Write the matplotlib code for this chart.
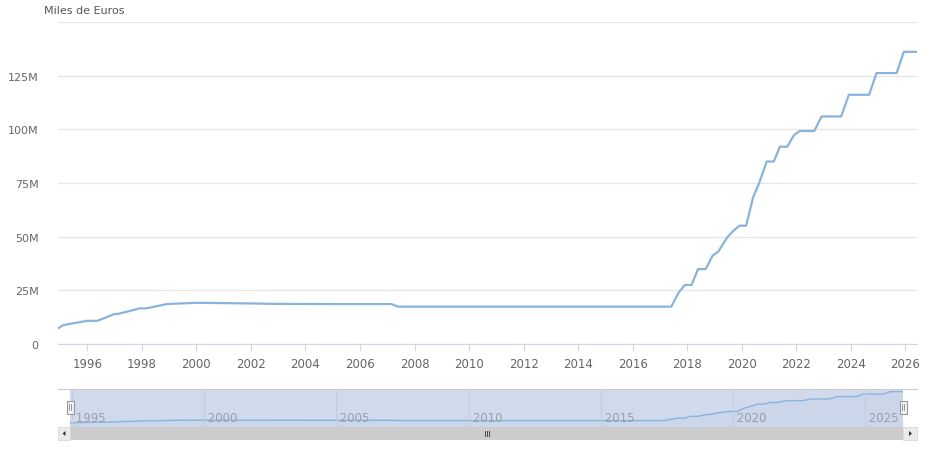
import matplotlib
matplotlib.use("Agg")
import matplotlib.pyplot as plt
import matplotlib.dates as mdates
from matplotlib.patches import Rectangle, Polygon
import pandas as pd
import numpy as np

# ---- data (millions of thousand euros) ----
dates = ["1994-12-05", "1995-02-15", "1995-07-20", "1996-01-01", "1996-05-15",
         "1996-09-10", "1997-01-01", "1997-02-10", "1997-08-05", "1997-12-01",
         "1998-03-01", "1998-12-01", "2000-01-01", "2002-01-01", "2002-10-15",
         "2005-01-01", "2007-02-25", "2007-05-25", "2017-06-01", "2017-09-10",
         "2017-12-01", "2018-02-28", "2018-05-25", "2018-09-05", "2018-12-05",
         "2019-02-20", "2019-06-20", "2019-09-10", "2019-12-01", "2020-02-28",
         "2020-06-01", "2020-08-20", "2020-11-30", "2021-03-05", "2021-05-25",
         "2021-09-01", "2021-11-30", "2022-02-15", "2022-08-28", "2022-12-05",
         "2023-08-25", "2023-12-05", "2024-09-01", "2024-12-10", "2025-09-05",
         "2025-12-10", "2026-06-05"]
values = [7.3, 8.8, 9.8, 10.8, 10.8,
          12.4, 14.0, 14.0, 15.5, 16.6,
          16.6, 18.6, 19.2, 18.9, 18.7,
          18.6, 18.6, 17.4, 17.4, 24.1,
          27.5, 27.5, 34.9, 34.9, 41.1,
          43.0, 49.7, 52.7, 55.1, 55.1,
          68.3, 74.9, 85.0, 85.0, 91.9,
          91.9, 97.3, 99.2, 99.2, 106.0,
          106.0, 116.1, 116.1, 126.2, 126.2,
          136.1, 136.1]
y_ticks = [0, 25, 50, 75, 100, 125, 150]
y_labels = ["0", "25M", "50M", "75M", "100M", "125M", ""]
main_years = list(range(1996, 2027, 2))
nav_years = list(range(1995, 2026, 5))
title = "Miles de Euros"

x = pd.to_datetime(dates)
xmin = pd.Timestamp("1994-12-05")
xmax = pd.Timestamp("2026-06-05")

W, H = 950, 452
fig = plt.figure(figsize=(W / 100, H / 100), dpi=100)
plt.rcParams['font.family'] = ['DejaVu Sans']

def fx(px):
    return px / W

def fy(py):
    return 1 - py / H

line_col = "#8ab3db"
grid_col = "#e6e6e6"
label_col = "#666666"

# ---- main chart ----
ax = fig.add_axes([fx(58), fy(345), fx(917 - 58), (345 - 23) / H])
ax.plot(x, values, color=line_col, lw=1.6, solid_joinstyle="round")
ax.set_xlim(xmin, xmax)
ax.set_ylim(0, 150)
ax.set_yticks(y_ticks)
ax.set_yticklabels(y_labels)
ax.yaxis.grid(True, color=grid_col, lw=0.9)
ax.set_axisbelow(True)
for s in ["top", "right", "left"]:
    ax.spines[s].set_visible(False)
ax.spines["bottom"].set_color("#ccd6eb")
ax.tick_params(axis="y", length=0, pad=14, labelsize=8, labelcolor=label_col)
ax.set_xticks([pd.Timestamp(f"{yr}-01-01") for yr in main_years])
ax.set_xticklabels([str(yr) for yr in main_years])
ax.tick_params(axis="x", length=5, color="#ccd6eb", labelsize=8.5,
               labelcolor=label_col, pad=4)
for lab in ax.get_yticklabels():
    lab.set_horizontalalignment("right")
fig.text(fx(44), fy(11), title, fontsize=8, color="#555555", va="center", ha="left")

# ---- navigator ----
nav_top, nav_bot = 390, 428
nav = fig.add_axes([fx(70), fy(nav_bot), fx(903 - 70), (nav_bot - nav_top) / H])
nav.set_facecolor((0.82, 0.855, 0.93))
nav.plot(x, values, color=line_col, lw=1.0)
nav.fill_between(x, values, -20, color=line_col, alpha=0.08, lw=0)
nav.set_xlim(xmin, xmax)
nav.set_ylim(-9, 147)
nav.set_yticks([])
for yr in nav_years:
    t = pd.Timestamp(f"{yr}-01-01")
    nav.axvline(t, color="#c3cbdc", lw=0.8)
    nav.text(t, 0.08, " " + str(yr), transform=nav.get_xaxis_transform(),
             fontsize=8.5, color="#99a0aa", ha="left", va="bottom")
nav.set_xticks([])
for s in nav.spines.values():
    s.set_visible(False)

# overlay for outlines, handles, scrollbar
ov = fig.add_axes([0, 0, 1, 1], facecolor="none")
ov.set_xlim(0, W)
ov.set_ylim(H, 0)
ov.axis("off")
ov.plot([58, 917], [nav_top, nav_top], color="#cccccc", lw=0.8)
# scrollbar
ov.add_patch(Rectangle((58, 428), 917 - 58, 13, facecolor="#f2f2f2", edgecolor="#f2f2f2", lw=0))
ov.add_patch(Rectangle((70, 428), 903 - 70, 13, facecolor="#cccccc", lw=0))
ov.add_patch(Rectangle((58, 428), 12, 13, facecolor="#ebebeb", edgecolor="#d8d8d8", lw=0.6))
ov.add_patch(Rectangle((903, 428), 14, 13, facecolor="#ebebeb", edgecolor="#d8d8d8", lw=0.6))
ov.add_patch(Polygon([[65.5, 432], [65.5, 437], [62.5, 434.5]], closed=True, facecolor="#333333", lw=0))
ov.add_patch(Polygon([[909, 432], [909, 437], [912, 434.5]], closed=True, facecolor="#333333", lw=0))
for dx in (-2, 0, 2):
    ov.plot([487 + dx, 487 + dx], [432, 437], color="#444444", lw=0.7)
# handles
for hx in (70, 903):
    ov.add_patch(Rectangle((hx - 3.5, 401.5), 7, 13, facecolor="#f2f2f2", edgecolor="#999999", lw=0.8))
    ov.plot([hx - 1, hx - 1], [405, 411], color="#888888", lw=0.6)
    ov.plot([hx + 1, hx + 1], [405, 411], color="#888888", lw=0.6)

fig.savefig("out.png", dpi=100)
